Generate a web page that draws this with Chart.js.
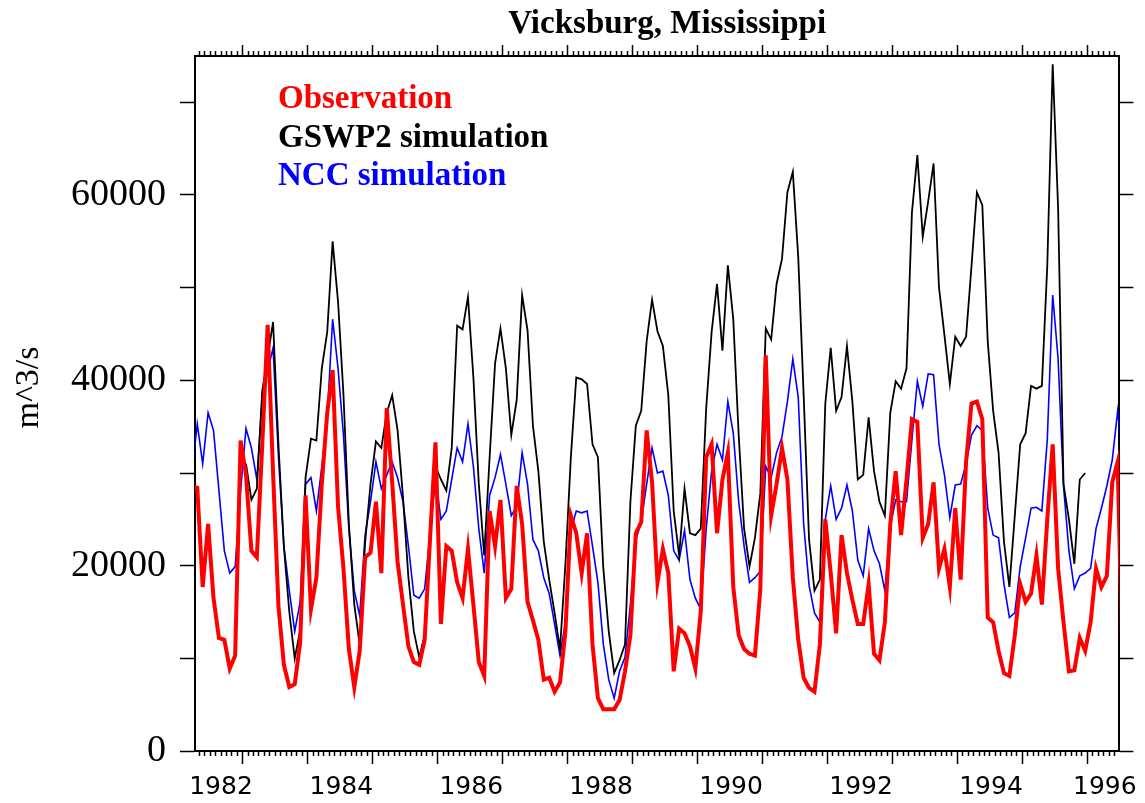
<!DOCTYPE html>
<html>
<head>
<meta charset="utf-8">
<script src="https://cdn.jsdelivr.net/npm/chart.js@4.4.0/dist/chart.umd.min.js"></script>
<style>
html,body{margin:0;padding:0;background:#ffffff;}
canvas{display:block;}
</style>
</head>
<body>
<canvas id="c" width="1145" height="803"></canvas>
<script>
// ---------------- data ----------------
const chartTitle = 'Vicksburg, Mississippi';
const yTitle = 'm^3/s';
const firstMonth = '1982-03';      // first monthly sample (partly outside the plot window)
const monthCount = 173;

// Observation (m^3/s), monthly, Mar 1982 ... Jul 1996
const observation = [
  28600,
  28400,17700,24500,16500,12200,12000, 8900,10300,33500,29800,
  21600,20900,33000,46000,30000,15600, 9300, 6900, 7200,11700,
  27600,15300,18700,28800,36500,41100,26400,19700,11000, 6900,
  10800,20900,21400,26900,19200,37000,29000,20400,15800,11300,
   9600, 9300,12000,23000,33300,13700,22100,21600,18200,16500,
  21800,15800, 9600, 8100,25900,22100,27100,16500,17500,28600,
  24500,16100,14100,12000, 7700, 7900, 6400, 7400,12900,25400,
  23500,19200,23500,11500, 5700, 4500, 4500, 4500, 5500, 8600,
  12500,23500,24700,34600,29000,18200,21800,19200, 8600,13200,
  12700,11300, 8900,15100,31700,33100,23500,29300,32200,17700,
  12500,11000,10500,10300,17500,42700,25400,28800,32700,29300,
  18700,12000, 7900, 6800, 6400,11500,25000,19200,12700,23300,
  19200,16300,13700,13700,18000,10500, 9800,13900,24500,30200,
  23300,29300,35800,35500,23000,24500,29000,19700,21800,17700,
  26200,18500,31200,37500,37700,35800,14400,13900,10800, 8400,
   8100,12500,18000,16100,17000,21100,15800,25000,33100,19700,
  13900, 8600, 8700,12200,10800,13900,19700,17700,18900,29000,
  31200, 6000
];

// GSWP2 simulation (m^3/s), same months; no values before Jan 1983 or after Dec 1995
const gswp2 = [
  null,
  null,null,null,null,null,null,null,null,null,31000,
  27100,28300,38900,42500,46300,33000,22000,15000,10000,13000,
  29500,33700,33500,41300,45200,55000,48500,38500,24500,15800,
  11500,22500,28800,33400,32700,36500,38400,34600,27400,18700,
  12900,10100,12500,23000,30700,29300,28100,32700,45900,45500,
  49000,40300,28800,21100,31700,41800,45600,41300,34100,37900,
  49200,45400,35100,30200,22600,18500,14900,11000,20200,31700,
  40300,40100,39600,33100,31700,19700,12900, 8400, 9800,11500,
  26900,35100,36700,44200,48700,45300,43700,38400,25900,21100,
  28300,23500,23300,24000,37000,45200,50400,43200,52400,46600,
  34100,24000,19900,23000,27800,45600,44400,50400,53100,60300,
  62500,53300,38400,22800,17300,18500,37500,43500,36700,38200,
  43700,37700,29300,29800,36000,30200,26900,25400,36500,39900,
  39100,41300,58100,64300,55500,59300,63400,50000,44900,39600,
  44700,43700,44700,52300,60300,58900,44200,36700,32200,22600,
  17700,25400,33100,34300,39400,39100,39400,52400,74100,58600,
  28800,25000,20200,29300,30000,null,null,null,null,null,
  null,null
];

// NCC simulation (m^3/s), same months
const ncc = [
  30000,
  35300,31000,36500,34600,28100,21600,19200,19900,28100,34800,
  32700,29300,38000,41000,43500,31700,22100,17300,12900,16100,
  28800,29500,25900,30700,36000,46600,41300,34100,24000,17300,
  14600,23300,26900,31200,28300,29800,31200,29500,26900,22100,
  16800,16500,17500,23500,29500,25000,25900,29300,32700,31200,
  35300,30700,24000,19200,27600,29500,32000,28800,25400,26400,
  32200,28800,22800,21600,18700,17000,13700,10300,13900,23800,
  25900,25700,25900,22100,18200,11500, 7700, 5700, 8600,10100,
  15800,22800,24700,28800,32700,30000,30200,27600,21600,20600,
  23800,18500,16500,15300,24000,30200,33100,31400,37700,34300,
  26900,22100,18200,18700,19400,30700,29500,32200,33900,37700,
  42300,38200,24500,17900,14900,13900,25000,28600,25000,26200,
  28700,25900,20600,18900,24000,21600,20200,17300,24200,27100,
  26900,26900,33600,39900,37200,40700,40600,33100,29800,25200,
  28700,28800,31000,34100,35100,34600,26200,23300,23000,18000,
  14400,14900,19900,23000,26200,26300,25900,33600,49200,42300,
  28600,21600,17500,18900,19200,19700,24000,26200,28600,31400,
  36700,31100
];

// axis ticks / labels
const xTickLabels = ['1982','1984','1986','1988','1990','1992','1994','1996'];
const yTicks = [0,10000,20000,30000,40000,50000,60000,70000];
const yTickLabels = [0,20000,40000,60000];

// ---------------- helpers ----------------
// months since Jan 1982
function monthIndex(label){
  const [y,m] = label.split('-').map(Number);
  return (y - 1982) * 12 + (m - 1);
}
const months = [];
{
  let [y,m] = firstMonth.split('-').map(Number);
  for (let i = 0; i < monthCount; i++) {
    months.push(y + '-' + String(m).padStart(2,'0'));
    m++; if (m > 12) { m = 1; y++; }
  }
}
const X_MIN = 2.58, X_MAX = 173.32;   // visible window (months since Jan 1982)
const YEAR_SHIFT = -0.6;             // year boundary marks relative to monthly samples
const Y_MIN = 0, Y_MAX = 75000;

function toPoints(arr){ return arr.map((v,i) => ({x: monthIndex(months[i]), y: v})); }

function monthTicks(scale){
  const t = [];
  for (let m = Math.ceil(X_MIN - YEAR_SHIFT); m + YEAR_SHIFT <= X_MAX; m++) {
    t.push({value: m + YEAR_SHIFT, major: m % 12 === 0});
  }
  scale.ticks = t;
}
function yearLabelTicks(scale){
  scale.ticks = xTickLabels.map(lbl => {
    let v = (Number(lbl) - 1982) * 12 + 5.6;
    v = Math.min(Math.max(v, X_MIN + 4.8), X_MAX - 2.7);
    return {value: v};
  });
}
function valueTicks(scale){ scale.ticks = yTicks.map(v => ({value: v})); }

// ---------------- text layer (title, y title, legend) ----------------
const textLayer = {
  id: 'textLayer',
  afterDraw(chart){
    const {ctx, chartArea: a} = chart;
    ctx.save();
    ctx.fillStyle = '#000';
    ctx.textAlign = 'center';
    ctx.textBaseline = 'alphabetic';
    ctx.font = 'bold 33px "Liberation Serif"';
    ctx.fillText(chartTitle, (a.left + a.right) / 2 + 10, 33);

    ctx.save();
    ctx.translate(38, (a.top + a.bottom) / 2 - 16);
    ctx.rotate(-Math.PI / 2);
    ctx.font = '34px "Liberation Serif"';
    ctx.fillText(yTitle, 0, 0);
    ctx.restore();

    ctx.textAlign = 'left';
    ctx.font = 'bold 33px "Liberation Serif"';
    chart.data.datasets.forEach((ds, i) => {
      ctx.fillStyle = ds.borderColor;
      ctx.fillText(ds.label, a.left + 83, a.top + 52 + i * 38.5);
    });
    ctx.restore();
  }
};

const minorDashBottom = c => (c.tick && c.tick.major) ? [] : [4, 100];
const minorDashTop = c => (c.tick && c.tick.major) ? [] : [0, 6, 4, 100];

new Chart(document.getElementById('c'), {
  type: 'line',
  data: {
    datasets: [
      {label: 'Observation', data: toPoints(observation), borderColor: '#ff0000', backgroundColor: '#ff0000', borderWidth: 4, clip: 0},
      {label: 'GSWP2 simulation', data: toPoints(gswp2), borderColor: '#000000', backgroundColor: '#000000', borderWidth: 1.8, clip: 0},
      {label: 'NCC simulation', data: toPoints(ncc), borderColor: '#0000ff', backgroundColor: '#0000ff', borderWidth: 1.6, clip: 0}
    ]
  },
  options: {
    responsive: false,
    animation: false,
    devicePixelRatio: 1,
    spanGaps: false,
    elements: {
      point: {radius: 0, hoverRadius: 0},
      line: {tension: 0, borderJoinStyle: 'miter', borderCapStyle: 'butt', fill: false}
    },
    layout: {padding: {top: 45, left: 0, right: 0, bottom: 0}},
    plugins: {legend: {display: false}, title: {display: false}, tooltip: {enabled: false}},
    events: [],
    scales: {
      x: {
        type: 'linear', position: 'bottom', min: X_MIN, max: X_MAX, weight: 0,
        afterBuildTicks: monthTicks,
        afterFit: s => { s.height = 13; },
        ticks: {display: false, autoSkip: false},
        grid: {display: true, drawOnChartArea: false, drawTicks: true, tickLength: 13,
               tickColor: '#000', tickWidth: 1.5, tickBorderDash: minorDashBottom},
        border: {display: true, color: '#000', width: 2}
      },
      xLab: {
        type: 'linear', position: 'bottom', min: X_MIN, max: X_MAX, weight: 1,
        afterBuildTicks: yearLabelTicks,
        afterFit: s => { s.height = 39; },
        ticks: {display: true, autoSkip: false, maxRotation: 0, minRotation: 0, padding: 8,
                color: '#000', font: {family: 'DejaVu Sans', size: 25},
                callback: (v, i) => xTickLabels[i]},
        grid: {display: false, drawTicks: false, drawOnChartArea: false},
        border: {display: false}
      },
      xTop: {
        type: 'linear', position: 'top', min: X_MIN, max: X_MAX,
        afterBuildTicks: monthTicks,
        afterFit: s => { s.height = 11; },
        ticks: {display: false, autoSkip: false},
        grid: {display: true, drawOnChartArea: false, drawTicks: true, tickLength: 11,
               tickColor: '#000', tickWidth: 1.5, tickBorderDash: minorDashTop},
        border: {display: true, color: '#000', width: 2}
      },
      y: {
        type: 'linear', position: 'left', min: Y_MIN, max: Y_MAX,
        afterBuildTicks: valueTicks,
        afterFit: s => { s.width = 195; },
        ticks: {display: true, padding: 14, color: '#000',
                font: {family: 'Liberation Serif', size: 38},
                callback: v => yTickLabels.includes(v) ? String(v) : ''},
        grid: {display: true, drawOnChartArea: false, drawTicks: true, tickLength: 15,
               tickColor: '#000', tickWidth: 1.5},
        border: {display: true, color: '#000', width: 2}
      },
      y2: {
        type: 'linear', position: 'right', min: Y_MIN, max: Y_MAX,
        afterBuildTicks: valueTicks,
        afterFit: s => { s.width = 22; },
        ticks: {display: false},
        grid: {display: true, drawOnChartArea: false, drawTicks: true, tickLength: 14,
               tickColor: '#000', tickWidth: 1.5},
        border: {display: true, color: '#000', width: 2}
      }
    }
  },
  plugins: [textLayer]
});
</script>
</body>
</html>
